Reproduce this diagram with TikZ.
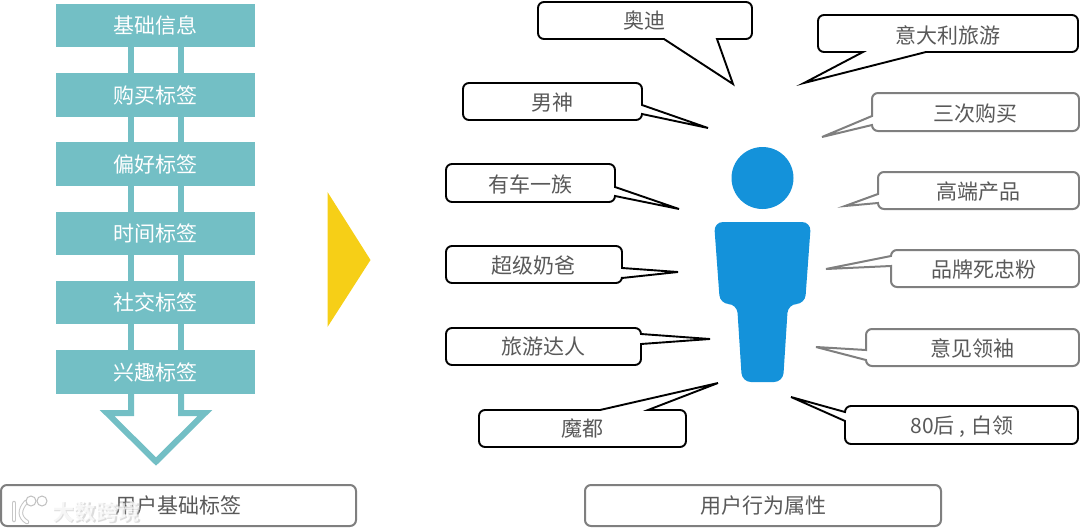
\documentclass[tikz,border=0pt]{standalone}
\usepackage{fontspec}
\setmainfont{Noto Sans CJK SC}
\definecolor{teal1}{HTML}{73BFC5}
\definecolor{blue1}{HTML}{1492DA}
\definecolor{yellow1}{HTML}{F6CF17}
\definecolor{txt}{HTML}{595959}
\definecolor{gray1}{HTML}{7F7F7F}
\tikzset{
  stackbox/.style={fill=teal1,text=white,minimum width=199pt,minimum height=43.5pt,inner sep=0pt,font=\fontsize{21}{24}\selectfont},
  rail/.style={draw=teal1,line width=6pt},
  callB/.style={draw=black,fill=white,line width=1.9pt,line join=miter},
  callG/.style={draw=gray1,fill=white,line width=2pt,line join=miter},
  lab/.style={text=txt,inner sep=0pt,font=\fontsize{21}{24}\selectfont},
  wm/.style={inner sep=0pt,font=\fontsize{22}{24}\selectfont\bfseries},
  wmline/.style={line width=4.5pt,draw=gray!45,line cap=round},
  wmfill/.style={line width=2.5pt,draw=white,line cap=round}
}
\begin{document}
\begin{tikzpicture}[x=1pt,y=-1pt]
\useasboundingbox (0,0) rectangle (1080,531);
% stack
\node[stackbox] (s1) at (155.5,25.5) {\raisebox{-1pt}{基础信息}};
\node[stackbox] (s2) at (155.5,95) {\raisebox{-1pt}{购买标签}};
\node[stackbox] (s3) at (155.5,164) {\raisebox{-1pt}{偏好标签}};
\node[stackbox] (s4) at (155.5,233.5) {\raisebox{-1pt}{时间标签}};
\node[stackbox] (s5) at (155.5,302.5) {\raisebox{-1pt}{社交标签}};
\node[stackbox] (s6) at (155.5,372) {\raisebox{-1pt}{兴趣标签}};
\foreach \a/\b in {s1/s2,s2/s3,s3/s4,s4/s5,s5/s6}{
  \draw[rail] ([xshift=-24.5pt]\a.south) -- ([xshift=-24.5pt]\b.north);
  \draw[rail] ([xshift=25.5pt]\a.south) -- ([xshift=25.5pt]\b.north);
}
\draw[rail,line join=miter] ([xshift=-24.5pt]s6.south) -- (131,413) -- (107,413) -- (156,461.5) -- (205,413) -- (181,413) -- ([xshift=25.5pt]s6.south);
% yellow triangle
\fill[yellow1] (327.5,192) -- (370.5,260) -- (327.5,327) -- cycle;
% person
\fill[blue1] (762.5,178) circle[radius=31];
\fill[blue1,rounded corners=9pt] (714,222) -- (811,222) -- (805,304) -- (788,304) -- (783,382) -- (742,382) -- (737,304) -- (720,304) -- cycle;
% left callouts
\draw[callB] (664,39) -- (733,84) -- (717,39) [rounded corners=6pt] -- (752,39) -- (752,2) -- (538,2) -- (538,39) [sharp corners] -- cycle;
\node[lab] (aodi) at (644,21) {奥迪};
\draw[callB] (642,105) -- (708,128) -- (642,114) [rounded corners=6pt] -- (642,120) -- (463,120) -- (463,83) -- (642,83) [sharp corners] -- cycle;
\node[lab] (nanshen) at (552,103) {男神};
\draw[callB] (615,187) -- (679,209) -- (615,196) [rounded corners=6pt] -- (615,202) -- (446,202) -- (446,164) -- (615,164) [sharp corners] -- cycle;
\node[lab] (youche) at (530,184) {有车一族};
\draw[callB] (622,268) -- (678,272) -- (622,278) [rounded corners=6pt] -- (622,283) -- (446,283) -- (446,246) -- (622,246) [sharp corners] -- cycle;
\node[lab] (naiba) at (533,266) {超级奶爸};
\draw[callB] (641,334) -- (710,339) -- (641,344) [rounded corners=6pt] -- (641,365) -- (446,365) -- (446,328) -- (641,328) [sharp corners] -- cycle;
\node[lab] (lvyou) at (543,347) {旅游达人};
\draw[callB] (600,410) -- (718,383) -- (648,410) [rounded corners=6pt] -- (686,410) -- (686,447) -- (479,447) -- (479,410) [sharp corners] -- cycle;
\node[lab] (modu) at (582,429) {魔都};
% right callouts
\draw[callB] (863,52) -- (804,83) -- (926,52) [rounded corners=6pt] -- (1078,52) -- (1078,15) -- (818,15) -- (818,52) [sharp corners] -- cycle;
\node[lab] (yidali) at (948,35) {意大利旅游};
\draw[callG] (872,116) -- (822,137) -- (872,125) [rounded corners=6pt] -- (872,131) -- (1079,131) -- (1079,93) -- (872,93) [sharp corners] -- cycle;
\node[lab] (sanci) at (975,114) {三次购买};
\draw[callG] (878,194) -- (845,206) -- (878,203) [rounded corners=6pt] -- (878,209) -- (1079,209) -- (1079,172) -- (878,172) [sharp corners] -- cycle;
\node[lab] (gaoduan) at (978,192) {高端产品};
\draw[callG] (891,256) -- (826,269) -- (891,266) [rounded corners=6pt] -- (891,287) -- (1079,287) -- (1079,250) -- (891,250) [sharp corners] -- cycle;
\node[lab] (pinpai) at (984,270) {品牌死忠粉};
\draw[callG] (866,350) -- (816,347) -- (866,360) [rounded corners=6pt] -- (866,366) -- (1079,366) -- (1079,329) -- (866,329) [sharp corners] -- cycle;
\node[lab] (yijian) at (972,348) {意见领袖};
\draw[callB] (845,412) -- (791,397) -- (845,421) [rounded corners=6pt] -- (845,444) -- (1078,444) -- (1078,406) -- (845,406) [sharp corners] -- cycle;
\node[lab] (bailing) at (962,427) {80后\hspace{5pt},\hspace{6pt}白领};
% bottom boxes
\node[callG,rounded corners=6pt,minimum width=355pt,minimum height=41pt,inner sep=0pt,text=txt,font=\fontsize{21}{24}\selectfont] (jichu) at (178.5,505.5) {\raisebox{-1pt}{用户基础标签}};
\node[callG,rounded corners=6pt,minimum width=356pt,minimum height=41pt,inner sep=0pt,text=txt,font=\fontsize{21}{24}\selectfont] (xingwei) at (763,505.5) {\raisebox{-1pt}{用户行为属性}};
% watermark
\node[wm,text=gray!45,opacity=.6] (wms) at (97,513.5) {大数跨境};
\node[wm,text=white,opacity=.75] (wmt) at (96,512.5) {大数跨境};
\draw[wmline] (14,503) -- (14,520);
\draw[wmline] (26,502) .. controls (19,510) and (19,517) .. (27,522);
\draw[wmfill] (14,503) -- (14,520);
\draw[wmfill] (26,502) .. controls (19,510) and (19,517) .. (27,522);
\draw[gray!50,line width=1pt,fill=white] (31,501) circle[radius=5];
\draw[gray!50,line width=1pt,fill=white] (42,501) circle[radius=5];
\end{tikzpicture}
\end{document}
